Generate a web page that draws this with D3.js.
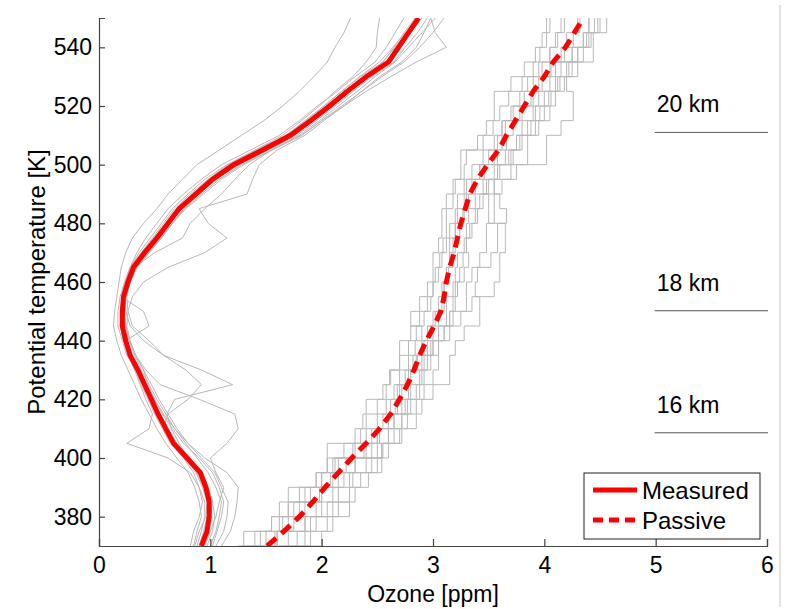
<!DOCTYPE html>
<html>
<head>
<meta charset="utf-8">
<script src="https://cdn.jsdelivr.net/npm/d3@7"></script>
<style>
  body { margin: 0; background: #fff; }
  text { font-family: "Liberation Sans", Arial, Helvetica, sans-serif; fill: #000; }
</style>
</head>
<body>
<div id="chart"></div>
<script>
// potential temperature levels [K] (every 5 K)
const theta = [370,375,380,385,390,395,400,405,410,415,420,425,430,435,440,445,450,455,460,
  465,470,475,480,485,490,495,500,505,510,515,520,525,530,535,540,545,550];

// mean measured ozone profile [ppm]
const measured = [0.92,0.97,0.99,0.99,0.96,0.91,0.79,0.67,0.60,0.53,0.47,0.41,0.35,0.28,0.24,0.21,0.21,0.22,0.26,
  0.31,0.41,0.52,0.62,0.72,0.87,1.02,1.21,1.47,1.72,1.90,2.07,2.23,2.40,2.60,2.69,2.78,2.87];

// mean passive ozone profile [ppm]
const passive = [1.51,1.66,1.80,1.92,2.03,2.15,2.27,2.40,2.52,2.62,2.70,2.77,2.83,2.88,2.94,3.01,3.07,3.10,3.12,
  3.15,3.19,3.22,3.25,3.29,3.33,3.40,3.49,3.59,3.66,3.74,3.82,3.90,4.00,4.08,4.19,4.27,4.35];

// individual measured profiles (grey)
const measuredRuns = [
  [0.85,0.88,0.92,0.90,0.86,0.80,0.70,0.60,0.52,0.45,0.38,0.32,0.26,0.20,0.16,0.13,0.14,0.16,0.18,0.20,0.24,0.30,0.40,0.52,0.62,0.75,0.88,1.08,1.28,1.48,1.65,1.80,1.93,2.05,2.12,2.20,2.26],
  [1.00,1.05,1.08,1.10,1.05,0.98,0.88,0.78,0.68,0.60,0.52,0.45,0.38,0.32,0.28,0.25,0.26,0.30,0.40,0.62,0.95,1.15,0.98,0.90,1.33,1.38,1.44,1.60,1.85,2.02,2.20,2.36,2.52,2.72,2.85,2.92,2.98],
  [1.10,1.18,1.22,1.24,1.25,1.15,0.95,0.80,0.68,0.58,0.50,0.44,0.40,0.33,0.27,0.22,0.20,0.21,0.25,0.30,0.40,0.50,0.60,0.70,0.85,1.00,1.18,1.45,1.70,1.88,2.05,2.20,2.38,2.58,2.68,2.76,2.85],
  [0.90,0.95,1.00,1.02,0.98,0.92,0.80,0.72,0.65,0.61,0.68,1.20,0.92,0.58,0.40,0.28,0.24,0.23,0.27,0.33,0.44,0.55,0.64,0.74,0.88,1.03,1.22,1.48,1.74,1.92,2.10,2.25,2.43,2.62,2.70,2.80,2.90],
  [0.95,1.00,1.05,1.08,1.12,1.05,1.00,1.15,1.25,1.22,0.90,0.55,0.42,0.33,0.28,0.24,0.22,0.24,0.28,0.34,0.45,0.56,0.66,0.76,0.90,1.05,1.26,1.52,1.78,1.95,2.12,2.28,2.45,2.65,2.75,2.86,2.95],
  [0.88,0.92,0.95,0.95,0.90,0.82,0.62,0.25,0.45,0.48,0.42,0.37,0.32,0.26,0.22,0.19,0.19,0.21,0.24,0.29,0.38,0.48,0.58,0.68,0.82,0.98,1.16,1.42,1.68,1.86,2.02,2.18,2.35,2.55,2.65,2.74,2.84],
  [0.93,0.98,1.00,1.00,0.97,0.92,0.82,0.70,0.62,0.55,0.49,0.43,0.36,0.30,0.25,0.22,0.22,0.24,0.28,0.34,0.45,0.56,0.66,0.77,0.92,1.08,1.28,1.55,1.82,2.00,2.20,2.40,2.62,2.85,3.12,3.02,2.98],
  [0.82,0.85,0.90,0.93,0.90,0.85,0.76,0.64,0.57,0.50,0.44,0.38,0.33,0.27,0.22,0.19,0.20,0.22,0.26,0.32,0.50,0.75,0.82,0.95,1.10,1.22,1.35,1.55,1.80,1.98,2.15,2.32,2.48,2.66,2.78,2.90,3.02],
  [0.97,1.02,1.04,1.02,0.98,0.93,0.80,0.68,0.60,0.53,0.46,0.40,0.34,0.27,0.23,0.20,0.20,0.21,0.24,0.28,0.36,0.46,0.56,0.66,0.80,0.95,1.15,1.40,1.65,1.82,1.98,2.12,2.28,2.40,2.49,2.50,2.52],
  [0.90,0.94,0.97,0.98,0.94,0.88,0.78,0.66,0.58,0.62,0.80,0.92,0.78,0.58,0.45,0.30,0.26,0.25,0.28,0.32,0.42,0.52,0.63,0.73,0.86,1.00,1.18,1.44,1.70,1.88,2.04,2.20,2.38,2.55,2.66,2.76,2.86],
  [1.02,1.06,1.10,1.12,1.08,1.02,0.90,0.76,0.66,0.57,0.50,0.42,0.36,0.29,0.24,0.45,0.40,0.20,0.23,0.28,0.38,0.49,0.60,0.70,0.84,0.99,1.17,1.42,1.68,1.85,2.02,2.18,2.34,2.52,2.64,2.75,2.88],
  [0.86,0.90,0.96,0.97,0.93,0.87,0.77,0.65,0.58,0.52,0.46,0.39,0.33,0.25,0.21,0.17,0.17,0.19,0.23,0.28,0.34,0.42,0.52,0.62,0.76,0.92,1.10,1.36,1.62,1.80,1.96,2.14,2.30,2.48,2.58,2.66,2.74],
  [1.05,1.12,1.15,1.16,1.10,1.04,0.92,0.80,0.70,0.62,0.54,0.47,0.40,0.33,0.27,0.24,0.23,0.24,0.27,0.32,0.42,0.54,0.66,0.78,0.94,1.10,1.30,1.56,1.82,2.00,2.18,2.36,2.54,2.74,2.88,3.00,3.10]
];

// individual passive profiles (grey, stepped)
const passiveRuns = [
  [1.30,1.30,1.55,1.70,1.70,1.95,2.05,2.05,2.30,2.40,2.40,2.55,2.62,2.70,2.70,2.80,2.88,2.88,2.95,3.00,3.00,3.05,3.08,3.08,3.12,3.18,3.25,3.25,3.40,3.48,3.55,3.55,3.70,3.82,3.92,3.98,4.02],
  [1.75,1.90,1.90,2.10,2.25,2.25,2.45,2.60,2.72,2.72,2.85,2.92,3.00,3.05,3.05,3.15,3.25,3.30,3.30,3.35,3.42,3.48,3.48,3.55,3.55,3.62,3.70,3.85,3.85,3.95,4.05,4.10,4.18,4.25,4.35,4.42,4.48],
  [1.40,1.60,1.75,1.75,2.00,2.10,2.10,2.40,2.50,2.60,2.68,2.68,2.80,2.85,2.95,2.95,3.02,3.10,3.10,3.12,3.15,3.15,3.20,3.28,3.30,3.30,3.42,3.55,3.62,3.62,3.78,3.88,3.95,4.05,4.15,4.20,4.30],
  [1.60,1.60,1.85,2.00,2.00,2.20,2.30,2.50,2.50,2.65,2.75,2.80,2.80,2.90,3.00,3.05,3.15,3.35,3.55,3.60,3.60,3.65,3.65,3.50,3.50,3.45,3.55,3.65,3.75,3.80,3.90,3.95,4.05,4.10,4.25,4.35,4.40],
  [1.55,1.70,1.85,1.95,2.10,2.15,2.30,2.45,2.60,2.65,2.72,2.78,2.88,2.92,2.98,3.05,3.12,3.12,3.18,3.20,3.22,3.28,3.30,3.32,3.38,3.55,3.75,4.02,4.02,4.15,4.26,4.26,4.20,4.30,4.44,4.44,4.56],
  [1.25,1.40,1.55,1.70,1.85,2.00,2.15,2.30,2.45,2.55,2.62,2.70,2.75,2.82,2.90,2.95,3.00,3.05,3.08,3.12,3.15,3.18,3.20,3.22,3.28,3.35,3.42,3.50,3.58,3.65,3.72,3.82,3.90,3.98,4.05,4.12,4.18],
  [1.85,2.00,2.10,2.25,2.25,2.35,2.50,2.54,2.60,2.77,2.77,2.85,2.90,2.95,3.00,3.10,3.18,3.20,3.22,3.28,3.32,3.30,3.35,3.40,3.45,3.50,3.58,3.68,3.75,3.85,3.92,4.00,4.10,4.15,4.25,4.35,4.40],
  [1.45,1.58,1.70,1.85,1.98,2.08,2.22,2.38,2.52,2.60,2.66,2.72,2.78,2.86,2.92,3.00,3.05,3.08,3.10,3.14,3.18,3.20,3.24,3.27,3.32,3.38,3.46,3.58,3.66,3.72,3.80,3.90,3.98,4.06,4.18,4.26,4.32],
  [1.65,1.78,1.95,2.05,2.15,2.28,2.40,2.55,2.65,2.72,2.80,2.88,2.92,2.98,3.05,3.10,3.15,3.18,3.20,3.24,3.27,3.30,3.33,3.38,3.42,3.48,3.58,3.70,3.78,3.88,3.96,4.04,4.14,4.20,4.30,4.38,4.45],
  [1.35,1.50,1.65,1.80,1.90,2.00,2.12,2.28,2.40,2.50,2.58,2.65,2.70,2.78,2.84,2.90,2.80,2.95,3.00,3.05,3.08,3.12,3.15,3.20,3.22,3.28,3.35,3.45,3.55,3.62,3.70,3.78,3.85,3.95,4.05,4.10,4.15],
  [1.70,1.85,2.05,2.15,2.30,2.42,2.54,2.54,2.70,2.85,2.90,3.00,3.15,3.15,3.20,3.28,3.42,3.42,3.38,3.40,3.52,3.58,3.58,3.66,3.60,3.55,3.60,3.72,3.80,3.92,4.00,4.06,4.12,4.22,4.30,4.40,4.50],
  [1.28,1.45,1.62,1.62,1.80,1.95,2.05,2.20,2.35,2.37,2.50,2.58,2.61,2.70,2.78,2.85,2.92,2.98,3.00,3.02,3.06,3.09,3.12,3.12,3.18,3.20,3.28,3.30,3.45,3.54,3.60,3.68,3.80,3.90,3.96,4.02,4.05]
];

// altitude markers
const kmLabels = ["20 km", "18 km", "16 km"];
const kmTheta = [511, 450.2, 408.6];

const xTicks = [0, 1, 2, 3, 4, 5, 6];
const yTicks = [380, 400, 420, 440, 460, 480, 500, 520, 540];

let width = 787,
    height = 609,
    margin = ({ top: 18, right: 20, bottom: 63, left: 99 });

const svg = d3.select("#chart")
  .append("svg")
  .attr("width", width)
  .attr("height", height);

let x = d3.scaleLinear()
  .domain([0, 6])
  .range([margin.left, width - margin.right]);

let y = d3.scaleLinear()
  .domain([370, 550])
  .range([height - margin.bottom, margin.top]);

svg.append("clipPath")
  .attr("id", "plot")
  .append("rect")
  .attr("x", x(0))
  .attr("y", y(550))
  .attr("width", x(6) - x(0))
  .attr("height", y(370) - y(550));

// faint frame line at the right edge of the figure
svg.append("line")
  .attr("x1", 780).attr("x2", 780)
  .attr("y1", 5).attr("y2", 607)
  .attr("stroke", "#d8d8d8")
  .attr("stroke-width", 1.5);

let plot = svg.append("g").attr("clip-path", "url(#plot)");

let line = d3.line()
  .x(d => x(d[0]))
  .y(d => y(d[1]));

let stepLine = d3.line()
  .x(d => x(d[0]))
  .y(d => y(d[1]))
  .curve(d3.curveStepAfter);

const pairs = vals => vals.map((v, i) => [v, theta[i]]);

for (let run of measuredRuns) {
  plot.append("path")
    .datum(pairs(run))
    .attr("fill", "none")
    .attr("stroke", "#b8b8b8")
    .attr("stroke-width", 1)
    .attr("d", line);
}

for (let run of passiveRuns) {
  plot.append("path")
    .datum(pairs(run))
    .attr("fill", "none")
    .attr("stroke", "#b8b8b8")
    .attr("stroke-width", 1)
    .attr("d", stepLine);
}

plot.append("path")
  .datum(pairs(measured))
  .attr("fill", "none")
  .attr("stroke", "#ff0000")
  .attr("stroke-width", 5)
  .attr("d", line);

plot.append("path")
  .datum(pairs(passive))
  .attr("fill", "none")
  .attr("stroke", "#ff0000")
  .attr("stroke-width", 5)
  .attr("stroke-dasharray", "12,7")
  .attr("d", line);

// axes
let xAxis = svg.append("g")
  .attr("transform", `translate(0,${y(370)})`)
  .call(d3.axisBottom(x).tickValues(xTicks).tickFormat(d3.format("d")).tickSize(-7).tickPadding(11));

let yAxis = svg.append("g")
  .attr("transform", `translate(${x(0)},0)`)
  .call(d3.axisLeft(y).tickValues(yTicks).tickSize(-6).tickPadding(7));

for (let ax of [xAxis, yAxis]) {
  ax.select(".domain").attr("stroke", "#444").attr("stroke-width", 1.2);
  ax.selectAll(".tick line").attr("stroke", "#444").attr("stroke-width", 1.2);
  ax.selectAll(".tick text")
    .attr("font-size", 23)
    .attr("font-family", "'Liberation Sans', Arial, sans-serif")
    .attr("fill", "#000");
}
xAxis.selectAll(".tick text").attr("dy", "0.71em");

svg.append("text")
  .attr("x", (x(0) + x(6)) / 2)
  .attr("y", 602)
  .attr("text-anchor", "middle")
  .attr("font-size", 23)
  .text("Ozone [ppm]");

svg.append("text")
  .attr("transform", `translate(45,${(y(370) + y(550)) / 2}) rotate(-90)`)
  .attr("text-anchor", "middle")
  .attr("font-size", 24)
  .text("Potential temperature [K]");

// altitude reference lines
kmLabels.forEach((label, i) => {
  svg.append("line")
    .attr("x1", x(5) - 1).attr("x2", x(6) + 1)
    .attr("y1", y(kmTheta[i])).attr("y2", y(kmTheta[i]))
    .attr("stroke", "#555")
    .attr("stroke-width", 1);
  svg.append("text")
    .attr("x", x(5) + 1)
    .attr("y", y(kmTheta[i]) - 20)
    .attr("font-size", 23)
    .text(label);
});

// legend
let legend = svg.append("g").attr("transform", "translate(584,473)");
legend.append("rect")
  .attr("width", 176).attr("height", 66)
  .attr("fill", "#fff")
  .attr("stroke", "#222")
  .attr("stroke-width", 1);

const legendItems = [
  { label: "Measured", dash: null },
  { label: "Passive", dash: "10,6" }
];
legendItems.forEach((d, i) => {
  let yy = 17 + i * 30;
  legend.append("line")
    .attr("x1", 9).attr("x2", 53)
    .attr("y1", yy).attr("y2", yy)
    .attr("stroke", "#ff0000")
    .attr("stroke-width", 5)
    .attr("stroke-dasharray", d.dash);
  legend.append("text")
    .attr("x", 58)
    .attr("y", yy + 9)
    .attr("font-size", 24)
    .text(d.label);
});
</script>
</body>
</html>
